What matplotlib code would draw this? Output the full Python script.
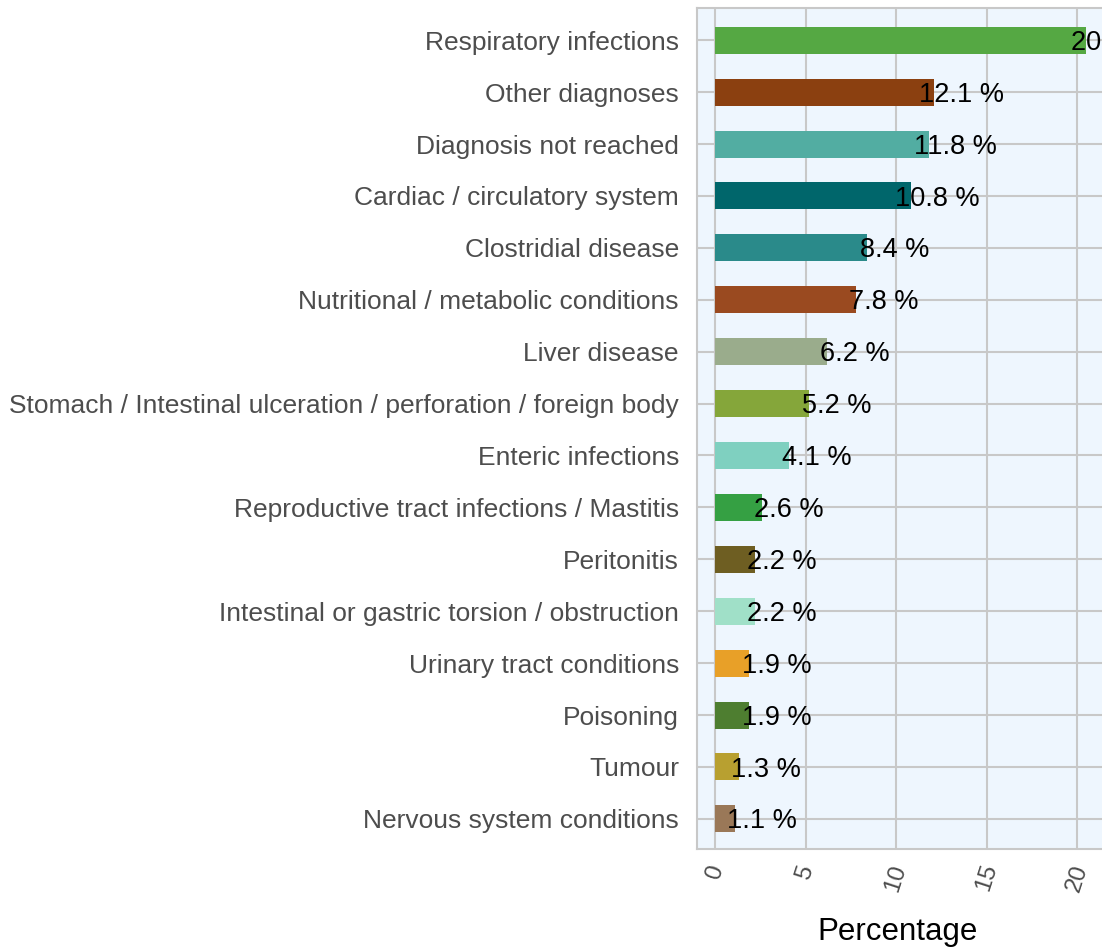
import matplotlib
matplotlib.use("Agg")
import matplotlib.pyplot as plt

plt.rcParams['font.family'] = ['Liberation Sans', 'DejaVu Sans']

categories = ["Respiratory infections", "Other diagnoses", "Diagnosis not reached",
              "Cardiac / circulatory system", "Clostridial disease",
              "Nutritional / metabolic conditions", "Liver disease",
              "Stomach / Intestinal ulceration / perforation / foreign body",
              "Enteric infections", "Reproductive tract infections / Mastitis",
              "Peritonitis", "Intestinal or gastric torsion / obstruction",
              "Urinary tract conditions", "Poisoning", "Tumour",
              "Nervous system conditions"]
percent = [20.5, 12.1, 11.8, 10.8, 8.4, 7.8, 6.2, 5.2, 4.1, 2.6, 2.2, 2.2, 1.9, 1.9, 1.3, 1.1]
colors = ["#55A843", "#8B4010", "#52ADA2", "#00666B", "#2A8A8A", "#9A4A20",
          "#9AAC8C", "#85A63A", "#7FD0C0", "#35A043", "#6E5E22", "#A0E0C8",
          "#E8A028", "#4E7E30", "#B8A030", "#9A7858"]
xticks = [0, 5, 10, 15, 20]

W, H = 1102, 949
fig = plt.figure(figsize=(W / 100, H / 100), dpi=100)
ax = fig.add_axes([697 / W, 1 - 849 / H, (1115 - 697) / W, (849 - 8) / H])
ax.set_facecolor("#EEF6FE")

ypos = list(range(len(categories)))
ax.barh(ypos, percent, height=0.52, color=colors, zorder=3)
for y, v in zip(ypos, percent):
    ax.text(v + 1.5, y + 0.05, "%.1f %%" % v, ha="center", va="center",
            fontsize=19.5, color="black", zorder=4, clip_on=False)

ax.set_xlim(-1.0, 22.1)
ax.set_ylim(len(categories) - 0.42, -0.62)
ax.set_yticks(ypos)
ax.set_yticklabels(categories, fontsize=19, color="#4d4d4d")
ax.set_xticks(xticks)
ax.set_xticklabels([str(t) for t in xticks], fontsize=17.5, color="#4d4d4d", rotation=72)
ax.tick_params(axis="y", length=0, pad=13)
ax.tick_params(axis="x", length=0, pad=9)
ax.grid(True, color="#C8C8C8", linewidth=1.5, zorder=0)
for s in ax.spines.values():
    s.set_color("#C8C8C8")
    s.set_linewidth(1.5)

fig.text(898 / W, 1 - 932 / H, "Percentage", ha="center", va="center",
         fontsize=22.5, color="black")

fig.savefig("out.png", dpi=100)
